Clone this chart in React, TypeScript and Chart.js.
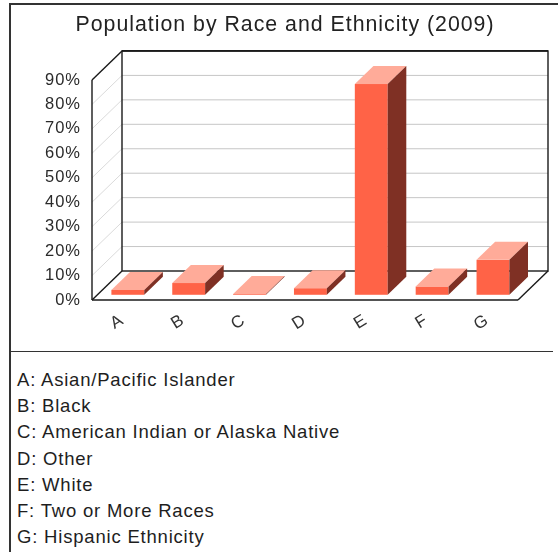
import React, { useEffect, useRef } from 'react';
import { Chart, registerables } from 'chart.js';

Chart.register(...registerables);

// ---- data ----
const chartTitle = 'Population by Race and Ethnicity (2009)';
const categories = ['A', 'B', 'C', 'D', 'E', 'F', 'G'];
const categoryNames = [
  'Asian/Pacific Islander',
  'Black',
  'American Indian or Alaska Native',
  'Other',
  'White',
  'Two or More Races',
  'Hispanic Ethnicity',
];
const percentValues = [2.0, 4.8, 0.3, 2.7, 86.2, 3.4, 14.3];
const yMax = 90;
const yStep = 10;

// ---- styles ----
const FONT = '"Liberation Sans", Arial, Helvetica, sans-serif';
const WALL_DX = 30;
const WALL_DY = 29;
const BAR_FRONT = 0.18;
const BAR_BACK = 0.8;
const FRONT_COLOR = '#ff6347';
const TOP_COLOR = '#ffab99';
const SIDE_COLOR = '#7f3024';

const threeDPlugin = {
  id: 'threeD',
  beforeUpdate(chart: any) {
    chart.ctx.letterSpacing = '1px';
  },
  beforeDraw(chart: any) {
    chart.ctx.letterSpacing = '1px';
  },
  beforeDatasetsDraw(chart: any) {
    const { ctx, chartArea: a, scales } = chart;
    const y = scales.y;
    const L = a.left;
    const R = a.right;
    const B = y.getPixelForValue(0);
    const T = y.getPixelForValue(yMax);
    const line = (x1: number, y1: number, x2: number, y2: number) => {
      ctx.beginPath();
      ctx.moveTo(x1, y1);
      ctx.lineTo(x2, y2);
      ctx.stroke();
    };
    ctx.save();
    ctx.lineWidth = 1;
    y.ticks.forEach((t: any) => {
      if (t.value <= 0 || t.value >= yMax) return;
      const py = y.getPixelForValue(t.value);
      ctx.strokeStyle = '#c6c6c6';
      line(L + WALL_DX, py - WALL_DY, R + WALL_DX, py - WALL_DY);
      ctx.strokeStyle = '#dadada';
      line(L, py, L + WALL_DX, py - WALL_DY);
    });
    ctx.strokeStyle = '#1a1a1a';
    ctx.lineWidth = 1.4;
    // back wall
    ctx.strokeRect(L + WALL_DX, T - WALL_DY, R - L, B - T);
    ctx.lineWidth = 1.8;
    line(L + WALL_DX, T - WALL_DY, R + WALL_DX, T - WALL_DY);
    ctx.lineWidth = 1.4;
    // side wall
    line(L, T, L, B);
    line(L, T, L + WALL_DX, T - WALL_DY);
    // floor
    line(L, B, R, B);
    line(R, B, R + WALL_DX, B - WALL_DY);
    line(L, B, L + WALL_DX, B - WALL_DY);
    ctx.restore();
  },
  afterDatasetsDraw(chart: any) {
    const { ctx } = chart;
    const meta = chart.getDatasetMeta(0);
    const ox = WALL_DX * BAR_FRONT;
    const oy = -WALL_DY * BAR_FRONT;
    const dx = WALL_DX * (BAR_BACK - BAR_FRONT);
    const dy = -WALL_DY * (BAR_BACK - BAR_FRONT);
    ctx.save();
    meta.data.forEach((bar: any) => {
      const { x, y, base, width } = bar.getProps(['x', 'y', 'base', 'width'], true);
      const xl = x - width / 2 + ox;
      const xr = x + width / 2 + ox;
      const yt = y + oy;
      const yb = base + oy;
      ctx.fillStyle = FRONT_COLOR;
      ctx.fillRect(xl, yt, xr - xl, yb - yt);
      ctx.fillStyle = TOP_COLOR;
      ctx.beginPath();
      ctx.moveTo(xl, yt);
      ctx.lineTo(xr, yt);
      ctx.lineTo(xr + dx, yt + dy);
      ctx.lineTo(xl + dx, yt + dy);
      ctx.closePath();
      ctx.fill();
      ctx.fillStyle = SIDE_COLOR;
      ctx.beginPath();
      ctx.moveTo(xr, yt);
      ctx.lineTo(xr + dx, yt + dy);
      ctx.lineTo(xr + dx, yb + dy);
      ctx.lineTo(xr, yb);
      ctx.closePath();
      ctx.fill();
    });
    ctx.restore();
  },
};

export default function App() {
  const canvasRef = useRef<HTMLCanvasElement | null>(null);

  useEffect(() => {
    const canvas = canvasRef.current;
    if (!canvas) return;
    const chart = new Chart(canvas, {
      type: 'bar',
      data: {
        labels: categories,
        datasets: [
          {
            data: percentValues,
            backgroundColor: 'rgba(0,0,0,0)',
            borderWidth: 0,
            categoryPercentage: 1,
            barPercentage: 0.54,
          },
        ],
      },
      options: {
        responsive: false,
        maintainAspectRatio: false,
        animation: false,
        devicePixelRatio: 1,
        layout: { padding: { left: 0, right: 0, top: 0, bottom: 0 } },
        plugins: {
          legend: { display: false },
          tooltip: { enabled: false },
          title: {
            display: true,
            text: chartTitle,
            color: '#222',
            font: { family: FONT, size: 21.3, weight: 'normal' },
            padding: { top: 12, bottom: 42.4 },
          },
        },
        scales: {
          x: {
            grid: { display: false },
            border: { display: false },
            ticks: {
              color: '#333',
              font: { family: FONT, size: 17 },
              minRotation: 32,
              maxRotation: 32,
              padding: 2,
              autoSkip: false,
            },
            afterFit: (s: any) => {
              s.height = 45;
            },
          },
          y: {
            min: 0,
            max: yMax,
            grid: { display: false },
            border: { display: false },
            ticks: {
              stepSize: yStep,
              color: '#2a2a2a',
              font: { family: FONT, size: 16.5 },
              padding: 3,
              callback: (v: any) => v + '%',
            },
            afterFit: (s: any) => {
              s.width = 92;
            },
          },
          // spacer on the right, so the title centres over the bordered box
          yRight: {
            position: 'right',
            display: true,
            grid: { display: false },
            border: { display: false },
            ticks: { display: false },
            afterFit: (s: any) => {
              s.width = 52;
            },
          },
        },
      },
      plugins: [threeDPlugin],
    });
    return () => chart.destroy();
  }, []);

  return (
    <div
      style={{
        position: 'absolute',
        left: 0,
        top: 0,
        width: 558,
        height: 552,
        overflow: 'hidden',
        background: '#fff',
        fontFamily: FONT,
      }}
    >
      <div
        style={{
          position: 'absolute',
          left: 9,
          top: 3,
          width: 600,
          height: 600,
          borderLeft: '2px solid #333',
          borderTop: '2px solid #333',
        }}
      />
      <canvas
        ref={canvasRef}
        width={570}
        height={345}
        style={{ position: 'absolute', left: 0, top: 0, width: 570, height: 345 }}
      />
      <div
        style={{
          position: 'absolute',
          left: 10,
          top: 351,
          width: 543,
          height: 0,
          borderTop: '1.5px solid #333',
        }}
      />
      <div
        style={{
          position: 'absolute',
          left: 17,
          top: 367,
          fontSize: 18.5,
          lineHeight: '26.2px',
          letterSpacing: '0.8px',
          color: '#1e1e1e',
          whiteSpace: 'nowrap',
        }}
      >
        {categories.map((c, i) => (
          <div key={c}>
            {c}: {categoryNames[i]}
          </div>
        ))}
      </div>
    </div>
  );
}
